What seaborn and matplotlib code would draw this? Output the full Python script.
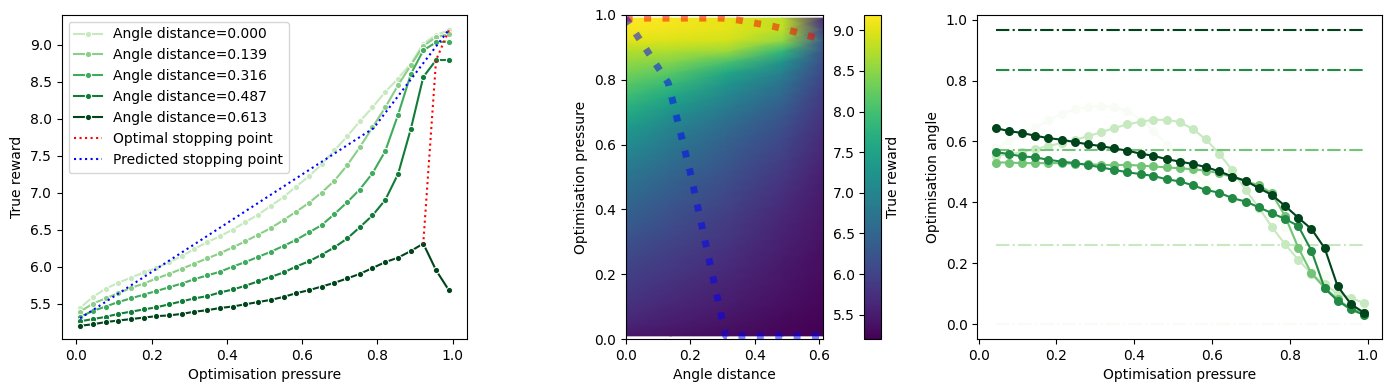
import numpy as np
import seaborn as sns
import matplotlib
import matplotlib.pyplot as plt

# optimisation pressure grid (x of left / right panels, y of heatmap)
pressure = [0.010, 0.044, 0.078, 0.111, 0.145, 0.179, 0.213, 0.247, 0.280, 0.314,
            0.348, 0.382, 0.416, 0.449, 0.483, 0.517, 0.551, 0.584, 0.618, 0.652,
            0.686, 0.720, 0.753, 0.787, 0.821, 0.855, 0.889, 0.922, 0.956, 0.990]

angle_distance = [0.000, 0.139, 0.316, 0.487, 0.613]

reward_000 = [5.44, 5.59, 5.70, 5.78, 5.85, 5.92, 5.98, 6.06, 6.14, 6.24,
              6.33, 6.41, 6.50, 6.60, 6.70, 6.82, 6.94, 7.08, 7.22, 7.38,
              7.57, 7.76, 7.96, 8.15, 8.36, 8.54, 8.74, 9.01, 9.13, 9.19]
reward_139 = [5.39, 5.50, 5.57, 5.64, 5.71, 5.77, 5.84, 5.90, 5.97, 6.04,
              6.11, 6.18, 6.26, 6.34, 6.43, 6.52, 6.63, 6.74, 6.86, 7.00,
              7.16, 7.37, 7.61, 7.88, 8.15, 8.45, 8.72, 8.98, 9.10, 9.14]
reward_316 = [5.32, 5.40, 5.46, 5.52, 5.57, 5.62, 5.67, 5.72, 5.77, 5.83,
              5.88, 5.93, 6.00, 6.06, 6.13, 6.20, 6.28, 6.36, 6.46, 6.56,
              6.71, 6.87, 7.04, 7.26, 7.56, 8.05, 8.60, 8.92, 9.03, 9.04]
reward_487 = [5.26, 5.29, 5.32, 5.36, 5.39, 5.42, 5.45, 5.49, 5.53, 5.57,
              5.60, 5.65, 5.69, 5.74, 5.80, 5.86, 5.92, 6.00, 6.07, 6.16,
              6.26, 6.38, 6.53, 6.69, 6.90, 7.25, 7.86, 8.56, 8.79, 8.79]
reward_613 = [5.20, 5.22, 5.25, 5.27, 5.29, 5.31, 5.33, 5.34, 5.36, 5.39,
              5.41, 5.44, 5.46, 5.49, 5.52, 5.55, 5.59, 5.64, 5.68, 5.73,
              5.78, 5.84, 5.90, 5.98, 6.06, 6.12, 6.21, 6.31, 5.95, 5.68]
rewards = [reward_000, reward_139, reward_316, reward_487, reward_613]

# stopping points, left panel (pressure, reward)
opt_stop_x = [0.990, 0.956, 0.922]
opt_stop_y = [9.19, 8.79, 6.31]
pred_stop_x = [0.010, 0.790, 0.990]
pred_stop_y = [5.30, 7.87, 9.20]

# stopping points, middle panel (angle distance, pressure)
opt_dist = [0.000, 0.300, 0.350, 0.410, 0.460, 0.520, 0.570, 0.613]
opt_press = [0.990, 0.990, 0.984, 0.973, 0.964, 0.949, 0.935, 0.923]
pred_dist = [0.000, 0.132, 0.200, 0.310, 0.613]
pred_press = [0.990, 0.790, 0.515, 0.010, 0.010]

# right panel: optimisation angle vs pressure (pressure[1:])
angle_a = [0.580, 0.600, 0.622, 0.645, 0.670, 0.690, 0.705, 0.713, 0.717, 0.713,
           0.700, 0.672, 0.635, 0.590, 0.545, 0.500, 0.460, 0.430, 0.410, 0.395,
           0.380, 0.360, 0.320, 0.270, 0.220, 0.160, 0.100, 0.060, 0.045]
angle_b = [0.553, 0.558, 0.565, 0.575, 0.585, 0.595, 0.605, 0.617, 0.630, 0.644,
           0.656, 0.665, 0.671, 0.671, 0.664, 0.640, 0.607, 0.560, 0.505, 0.441,
           0.383, 0.320, 0.263, 0.212, 0.166, 0.133, 0.100, 0.088, 0.069]
angle_c = [0.531, 0.531, 0.529, 0.529, 0.529, 0.529, 0.527, 0.526, 0.523, 0.523,
           0.523, 0.521, 0.518, 0.515, 0.512, 0.509, 0.504, 0.496, 0.483, 0.470,
           0.456, 0.430, 0.356, 0.252, 0.167, 0.120, 0.082, 0.052, 0.036]
angle_d = [0.565, 0.559, 0.551, 0.548, 0.540, 0.534, 0.529, 0.523, 0.515, 0.507,
           0.499, 0.493, 0.487, 0.476, 0.469, 0.456, 0.441, 0.432, 0.414, 0.403,
           0.384, 0.365, 0.346, 0.323, 0.242, 0.118, 0.078, 0.049, 0.031]
angle_e = [0.644, 0.634, 0.628, 0.619, 0.611, 0.606, 0.598, 0.591, 0.585, 0.577,
           0.570, 0.560, 0.553, 0.542, 0.534, 0.526, 0.516, 0.502, 0.485, 0.471,
           0.447, 0.425, 0.389, 0.350, 0.313, 0.250, 0.126, 0.067, 0.038]
angles = [angle_a, angle_b, angle_c, angle_d, angle_e]
true_angle = [0.000, 0.261, 0.573, 0.836, 0.967]

cmap = matplotlib.colormaps['Greens']
left_colors = [cmap(v) for v in np.linspace(0.25, 1, 5)]
right_colors = [cmap(v) for v in np.linspace(0, 1, 5)]

fig = plt.figure(figsize=(13.92, 3.92), dpi=100)
ax1 = fig.add_axes([0.0443, 0.135, 0.2914, 0.827])
ax2 = fig.add_axes([0.4495, 0.135, 0.1420, 0.827])
cax = fig.add_axes([0.6209, 0.135, 0.0118, 0.827])
ax3 = fig.add_axes([0.7021, 0.135, 0.2910, 0.827])

# left: reward curves
for d, r, c in zip(angle_distance, rewards, left_colors):
    sns.lineplot(x=pressure, y=r, ax=ax1, color=c, marker='o', markersize=4.5,
                 linewidth=1.5, label=f'Angle distance={d:.3f}', sort=False)
ax1.plot(opt_stop_x, opt_stop_y, ':', color='red', lw=1.5, label='Optimal stopping point')
ax1.plot(pred_stop_x, pred_stop_y, ':', color='blue', lw=1.5, label='Predicted stopping point')
ax1.legend(loc='upper left')
ax1.set_ylim(5.02, 9.40)
ax1.set(xlabel='Optimisation pressure', ylabel='True reward')

# middle: heatmap of true reward
X, Y = np.meshgrid(angle_distance, pressure)
Z = np.array(rewards).T
mesh = ax2.pcolormesh(X, Y, Z, shading='gouraud', cmap='viridis')
ax2.plot(opt_dist, opt_press, ':', color='red', lw=5, alpha=0.5)
ax2.plot(pred_dist, pred_press, ':', color='blue', lw=5, alpha=0.5)
ax2.set_xlim(0, 0.613)
ax2.set_ylim(0, 1)
ax2.set_xticks([0.0, 0.2, 0.4, 0.6])
ax2.set(xlabel='Angle distance', ylabel='Optimisation pressure')
cbar = fig.colorbar(mesh, cax=cax)
cax.yaxis.set_ticks_position('left')
cax.yaxis.set_label_position('right')
cbar.set_label('True reward')

# right: optimisation angle
for a, t, c in zip(angles, true_angle, right_colors):
    sns.lineplot(x=pressure[1:], y=a, ax=ax3, color=c, marker='o', markersize=6.5,
                 markeredgewidth=0, linewidth=1.5, sort=False, legend=False)
    ax3.hlines(t, pressure[1], pressure[-1], colors=[c], linestyles='-.', lw=1.5)
ax3.set(xlabel='Optimisation pressure', ylabel='Optimisation angle')

fig.savefig('out.png', dpi=100)
